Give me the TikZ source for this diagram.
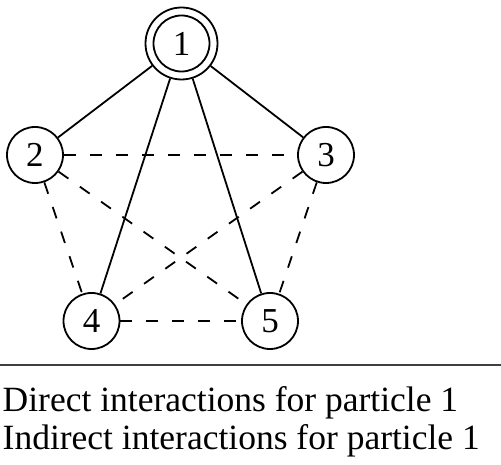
\documentclass[tikz,border=0pt]{standalone}
\usepackage{fontspec}
\setmainfont{Liberation Serif}
\begin{document}
\begin{tikzpicture}[x=1pt,y=1pt,
  particle/.style={circle,draw,line width=1.8pt,minimum size=56pt,inner sep=0pt,font=\fontsize{35}{38}\selectfont},
  outerring/.style={circle,draw,line width=1.8pt,minimum size=72pt,inner sep=0pt},
  direct/.style={line width=1.8pt},
  indirect/.style={line width=1.8pt,dash pattern=on 12pt off 14pt},
  legend/.style={anchor=base west,inner sep=0pt,font=\fontsize{35.5}{38}\selectfont}]
\useasboundingbox (0,0) rectangle (501,465);
\node[outerring] (p1) at (181.5,421.5) {};
\node[particle] (p1in) at (p1.center) {1};
\node[particle] (p2) at (35,310) {2};
\node[particle] (p3) at (326,310) {3};
\node[particle] (p4) at (91.5,144) {4};
\node[particle] (p5) at (270,144) {5};
\draw[direct] (p1) -- (p2);
\draw[direct] (p1) -- (p3);
\draw[direct] (p1) -- (p4);
\draw[direct] (p1) -- (p5);
\draw[indirect] (p2) -- (p3);
\draw[indirect] (p2) -- (p4);
\draw[indirect] (p2) -- (p5);
\draw[indirect] (p3) -- (p4);
\draw[indirect] (p3) -- (p5);
\draw[indirect] (p4) -- (p5);
\coordinate (rl) at (0,100);
\coordinate (rr) at (501,100);
\draw[line width=1.3pt,black!75] (rl) -- (rr);
\node[legend] (t1) at (2.5,53) {Direct interactions for particle 1};
\node[legend] (t2) at (2.5,15) {Indirect interactions for particle 1};
\end{tikzpicture}
\end{document}
